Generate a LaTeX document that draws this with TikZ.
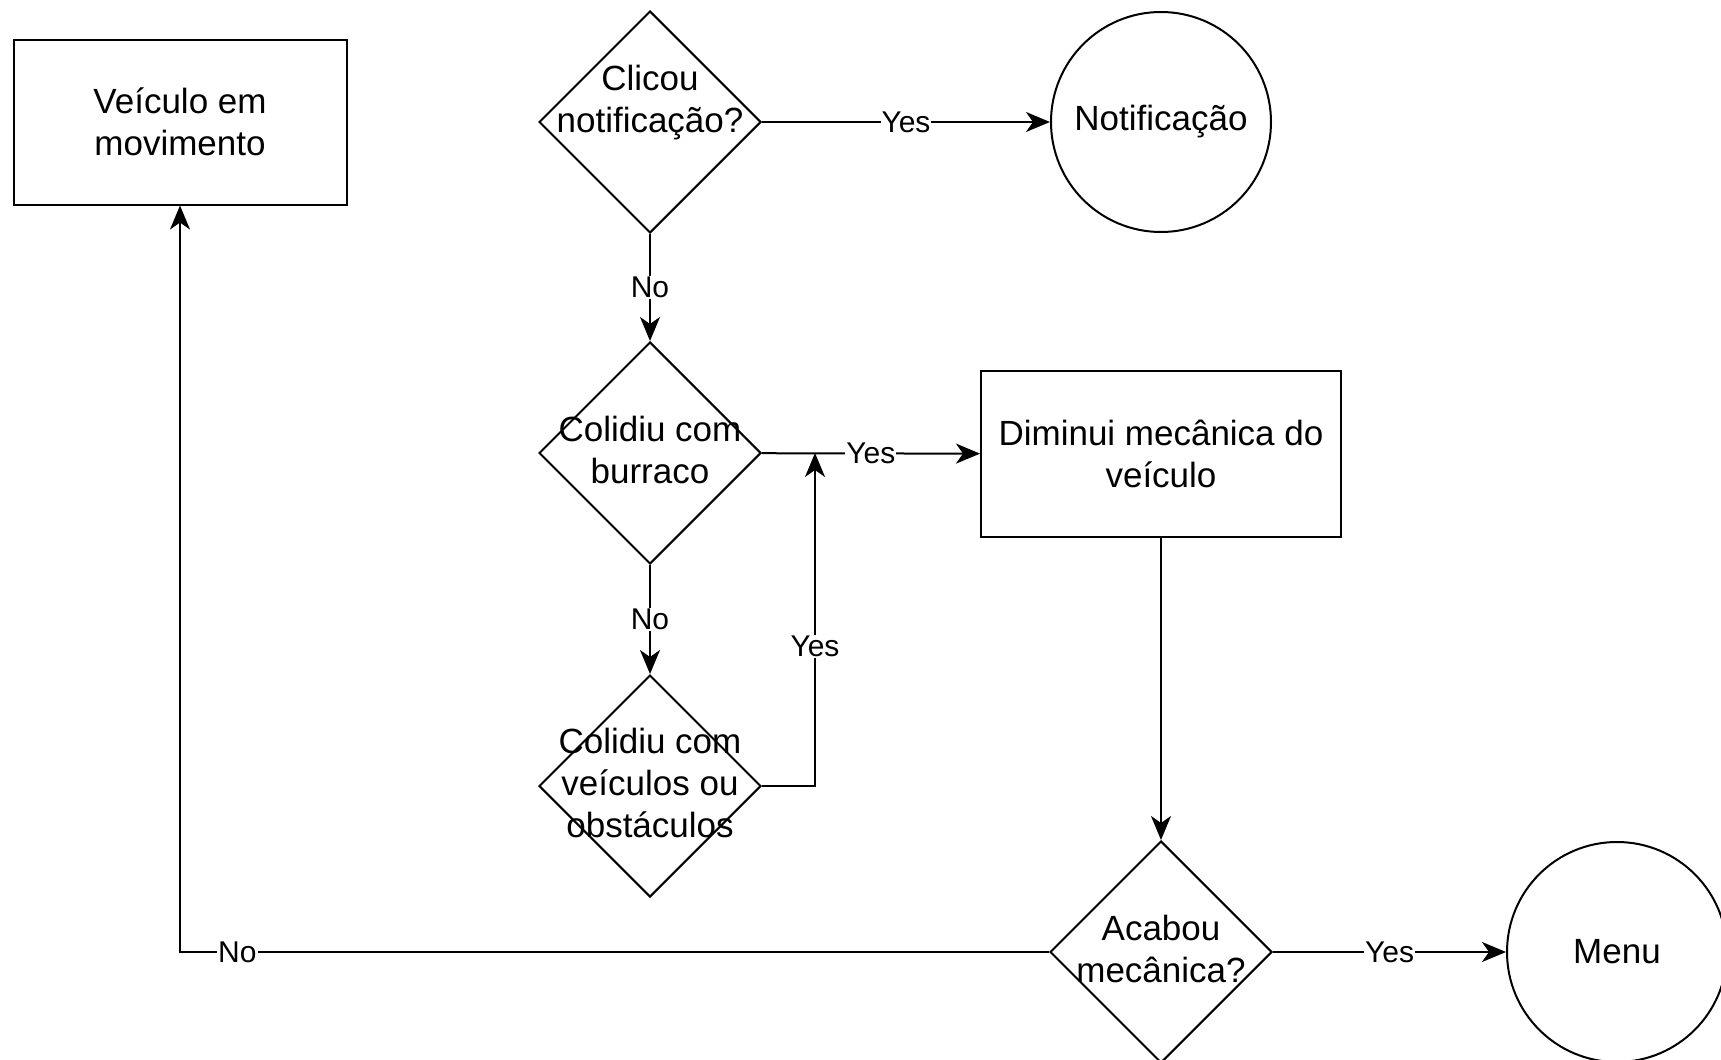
\documentclass[tikz,border=0pt]{standalone}
\usepackage{fontspec}
\setmainfont{Liberation Sans}
\usetikzlibrary{shapes.geometric,arrows.meta}

\begin{document}
\begin{tikzpicture}[
      x=0.5pt, y=0.5pt, line width=1pt,
      caixa/.style={draw, align=center, font=\fontsize{17.5}{21}\selectfont,
                    minimum width=166.5pt, minimum height=82.5pt},
      decisao/.style={draw, diamond, inner sep=0pt, minimum width=111pt, minimum height=111pt},
      texto/.style={align=center, font=\fontsize{17.5}{21}\selectfont},
      terminal/.style={draw, circle, align=center, font=\fontsize{17.5}{21}\selectfont,
                       minimum size=110pt},
      fluxo/.style={-{Stealth[length=12pt, width=10pt, inset=3.5pt]}},
      rotulo/.style={fill=white, inner sep=0.5pt, font=\fontsize{15}{18}\selectfont, midway}
    ]
    \useasboundingbox (0,0) rectangle (1721,-1060);

    \node[caixa]    (v)  at (180,-122)  {Veículo em\\ movimento};
    \node[decisao]  (d1) at (650,-122)  {};
    \node[texto]    (t1) at (650,-103)  {Clicou\\ notificação?};
    \node[terminal] (n)  at (1161,-122) {Notificação};
    \node[decisao]  (d2) at (650,-453)  {};
    \node[texto]    (t2) at (650,-450)  {Colidiu com\\ burraco};
    \node[caixa, minimum width=180pt, minimum height=83pt] (m) at (1161,-454) {Diminui mecânica do\\ veículo};
    \node[decisao]  (d3) at (650,-786)  {};
    \node[texto]    (t3) at (650,-783)  {Colidiu com\\ veículos ou\\ obstáculos};
    \node[decisao]  (d4) at (1161,-952) {};
    \node[texto]    (t4) at (1161,-949) {Acabou\\ mecânica?};
    \node[terminal] (u)  at (1617,-952) {Menu};
    \coordinate (j) at (815,-453);

    \draw[fluxo] (d1) -- (n) node[rotulo] {Yes};
    \draw[fluxo] (d1) -- (d2) node[rotulo] {No};
    \draw[fluxo] (d2) -- (m) node[rotulo] {Yes};
    \draw[fluxo] (d2) -- (d3) node[rotulo] {No};
    \draw[fluxo] (d3.east) -| (j) node[rotulo, pos=0.71] {Yes};
    \draw[fluxo] (m) -- (d4);
    \draw[fluxo] (d4) -- (u) node[rotulo] {Yes};
    \draw[fluxo] (d4.west) -| (v.south) node[rotulo, pos=0.467] {No};
  \end{tikzpicture}
\end{document}
